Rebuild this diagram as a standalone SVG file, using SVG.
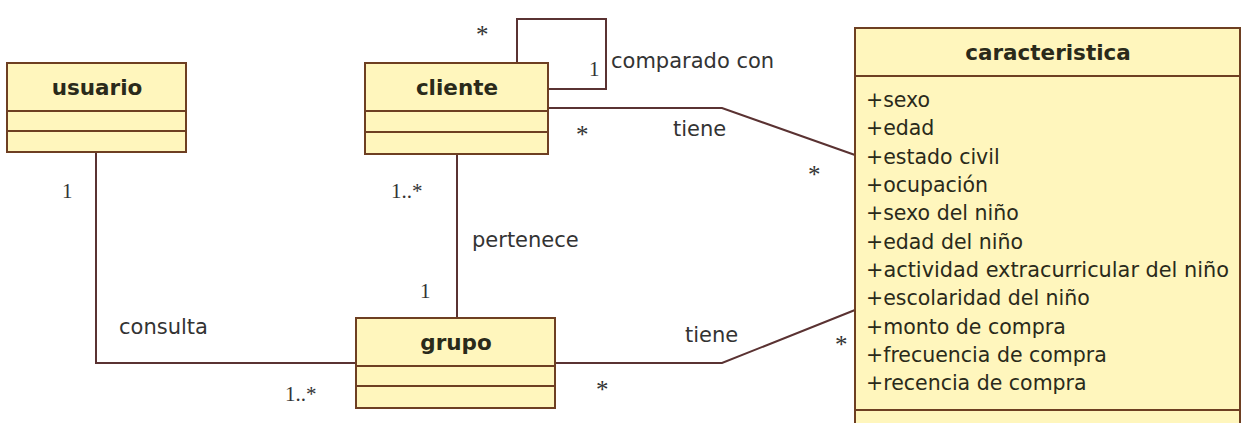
<svg xmlns="http://www.w3.org/2000/svg" width="1248" height="423" viewBox="0 0 1248 423">
<style>
.box{fill:#fff6bd;stroke:#6e3f22;stroke-width:2}
.div{stroke:#6e3f22;stroke-width:2}
.title{font-family:"DejaVu Sans",sans-serif;font-weight:bold;font-size:21.5px;fill:#2a2a1a;text-anchor:middle}
.attr{font-family:"DejaVu Sans",sans-serif;font-size:20.5px;fill:#2a2a1a}
.lbl{font-family:"DejaVu Sans",sans-serif;font-size:21px;fill:#333}
.mult{font-family:"Liberation Serif",serif;font-size:21px;fill:#333}
.star{font-family:"Liberation Serif",serif;font-size:25px;fill:#333}
.conn{fill:none;stroke:#5a3232;stroke-width:2}
</style>
<rect width="1248" height="423" fill="#ffffff"/>
<g id="connectors">
<polyline class="conn" points="517,63 517,19 606,19 606,89 548,89"/>
<polyline class="conn" points="548,108 722,108 855,155"/>
<line class="conn" x1="457" y1="154" x2="457" y2="318"/>
<polyline class="conn" points="96,152 96,363 356,363"/>
<polyline class="conn" points="555,363 722,363 855,310"/>
</g>
<g id="labels">
<text class="star" x="476" y="43">*</text>
<text class="mult" x="589" y="76">1</text>
<text class="lbl" x="611" y="68">comparado con</text>
<text class="star" x="576" y="143">*</text>
<text class="lbl" x="673" y="136">tiene</text>
<text class="star" x="808" y="183">*</text>
<text class="mult" x="391" y="198">1..*</text>
<text class="lbl" x="472" y="247">pertenece</text>
<text class="mult" x="420" y="298">1</text>
<text class="mult" x="62" y="198">1</text>
<text class="lbl" x="119" y="334">consulta</text>
<text class="mult" x="285" y="401">1..*</text>
<text class="lbl" x="685" y="342">tiene</text>
<text class="star" x="596" y="398">*</text>
<text class="star" x="835" y="353">*</text>
</g>
<g id="usuario">
<rect class="box" x="7" y="63" width="179" height="89"/>
<line class="div" x1="7" y1="111" x2="186" y2="111"/>
<line class="div" x1="7" y1="131" x2="186" y2="131"/>
<text class="title" x="97" y="95">usuario</text>
</g>
<g id="cliente">
<rect class="box" x="365" y="63" width="183" height="91"/>
<line class="div" x1="365" y1="111" x2="548" y2="111"/>
<line class="div" x1="365" y1="132" x2="548" y2="132"/>
<text class="title" x="457" y="95">cliente</text>
</g>
<g id="grupo">
<rect class="box" x="356" y="318" width="199" height="90"/>
<line class="div" x1="356" y1="366" x2="555" y2="366"/>
<line class="div" x1="356" y1="386" x2="555" y2="386"/>
<text class="title" x="456" y="350">grupo</text>
</g>
<g id="caracteristica">
<rect class="box" x="855" y="28" width="385" height="400"/>
<line class="div" x1="855" y1="76" x2="1240" y2="76"/>
<line class="div" x1="855" y1="410" x2="1240" y2="410"/>
<text class="title" x="1048" y="60">caracteristica</text>
<text class="attr" x="866" y="107">+sexo</text>
<text class="attr" x="866" y="135">+edad</text>
<text class="attr" x="866" y="164">+estado civil</text>
<text class="attr" x="866" y="192">+ocupación</text>
<text class="attr" x="866" y="220">+sexo del niño</text>
<text class="attr" x="866" y="249">+edad del niño</text>
<text class="attr" x="866" y="277" textLength="363" lengthAdjust="spacingAndGlyphs">+actividad extracurricular del niño</text>
<text class="attr" x="866" y="305">+escolaridad del niño</text>
<text class="attr" x="866" y="334">+monto de compra</text>
<text class="attr" x="866" y="362">+frecuencia de compra</text>
<text class="attr" x="866" y="390">+recencia de compra</text>
</g>
</svg>
